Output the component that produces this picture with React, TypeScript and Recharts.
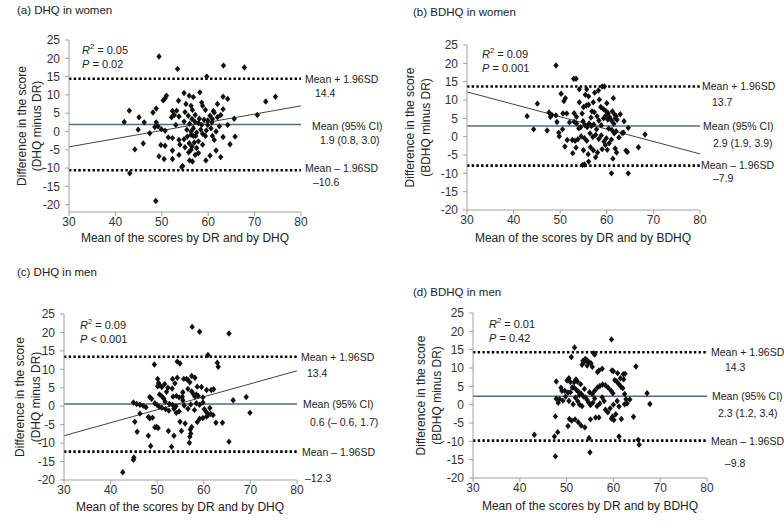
import { ComposedChart, Scatter, XAxis, YAxis, ReferenceLine } from 'recharts'

const W = 784
const H = 529
const FONT = 'Liberation Sans, Arial, sans-serif'

const xTicks = [30, 40, 50, 60, 70, 80]
const yTicks = [-20, -15, -10, -5, 0, 5, 10, 15, 20, 25]

// (a) DHQ in women: [mean of scores, difference]
const dhqWomen: [number, number][] = [
  [49.4, 20.5], [53.4, 17.1], [63.3, 18.0], [67.8, 17.5], [59.7, 15.0], [54.8, 10.5], [55.9, 9.8], [56.8, 9.4],
  [58.2, 10.7], [63.2, 9.5], [64.2, 8.9], [72.4, 8.2], [74.5, 9.5], [51.0, 9.8], [50.7, 9.1], [50.3, 8.5],
  [55.2, 7.5], [56.3, 7.0], [58.6, 7.9], [58.8, 7.0], [53.6, 8.4], [62.0, 7.5], [43.0, 5.7], [48.8, 6.3],
  [52.3, 5.6], [53.2, 5.7], [55.0, 5.3], [56.6, 5.9], [59.4, 5.9], [61.1, 5.6], [63.2, 6.1], [48.1, 5.2],
  [52.7, 4.5], [52.1, 3.9], [53.7, 4.1], [55.7, 4.3], [57.2, 4.5], [58.1, 3.5], [60.4, 4.3], [61.3, 5.2],
  [62.7, 4.5], [45.1, 3.9], [56.5, 3.4], [59.1, 3.2], [59.9, 3.0], [60.9, 3.4], [62.0, 3.9], [65.6, 3.5],
  [70.6, 4.5], [46.2, 2.5], [41.9, 2.6], [48.8, 2.5], [54.8, 2.7], [56.0, 2.1], [57.1, 2.7], [57.9, 2.3],
  [58.6, 1.8], [59.9, 1.8], [60.8, 2.5], [62.4, 1.4], [64.2, 1.8], [53.0, 1.8], [49.2, 1.4], [48.5, 1.2],
  [44.9, 0.5], [49.9, 0.6], [50.7, 0.2], [47.4, -0.5], [55.4, 0.5], [56.3, 0.0], [56.8, 0.9], [57.5, -0.3],
  [58.4, 0.5], [58.8, -0.6], [59.6, 0.3], [60.6, 0.9], [61.7, 0.0], [60.9, -1.2], [56.3, -0.9], [56.8, -1.2],
  [55.5, -1.4], [57.3, -1.2], [59.4, -1.2], [51.4, -1.6], [52.3, -1.8], [53.7, -2.3], [54.8, -2.1], [55.9, -3.2],
  [57.0, -3.0], [57.9, -2.7], [61.3, -2.3], [63.2, -1.5], [65.8, -1.4], [46.0, -3.3], [49.8, -3.7], [50.7, -3.9],
  [53.9, -3.6], [55.0, -4.3], [56.5, -4.1], [57.5, -4.5], [58.8, -3.6], [64.7, -3.5], [44.2, -4.9], [52.3, -5.2],
  [56.3, -5.0], [61.7, -5.2], [49.4, -6.8], [50.5, -7.5], [53.7, -6.4], [55.8, -5.7], [57.2, -6.4], [57.9, -5.9],
  [60.4, -6.6], [62.7, -7.0], [52.3, -7.5], [56.0, -7.9], [56.6, -8.2], [59.5, -7.9], [54.5, -9.4], [54.3, -9.7],
  [43.1, -11.4], [48.7, -19.0],
]

// (b) BDHQ in women
const bdhqWomen: [number, number][] = [
  [49.1, 19.4], [52.9, 15.8], [53.4, 15.8], [54.1, 12.9], [55.7, 12.9], [58.2, 12.6], [59.0, 13.7], [59.5, 13.7],
  [42.9, 5.6], [45.1, 9.0], [44.3, 2.0], [47.6, 6.6], [47.9, 5.4], [48.2, 5.9], [49.1, 5.8], [50.6, 6.3],
  [51.4, 6.3], [49.3, 4.0], [47.2, 1.7], [50.5, 2.0], [49.7, 1.1], [49.8, 0.1], [50.2, 11.7], [51.1, 10.5],
  [50.8, 9.7], [54.1, 9.4], [55.0, 8.1], [55.6, 8.5], [56.1, 8.7], [57.1, 9.4], [56.8, 6.9], [57.3, 6.7],
  [61.4, 10.5], [59.3, 7.5], [52.0, 3.9], [53.0, 4.1], [53.5, 3.6], [54.0, 2.3], [54.4, 2.6], [54.9, 4.2],
  [55.3, 3.2], [55.8, 2.6], [56.2, 3.6], [56.7, 2.9], [57.2, 3.3], [57.8, 2.0], [58.3, 4.4], [58.8, 3.1],
  [59.3, 5.0], [59.8, 5.8], [60.2, 4.7], [60.6, 5.3], [61.0, 4.4], [61.5, 3.5], [61.8, 5.0], [62.2, 4.6],
  [60.4, 2.2], [61.1, 1.8], [61.6, 0.9], [62.0, 1.5], [62.6, -0.2], [63.6, 1.1], [64.6, 2.4], [68.2, 0.6],
  [63.3, 1.0], [52.6, -0.9], [53.2, -1.1], [53.8, -0.7], [54.5, 0.1], [55.2, -0.4], [55.7, -1.1], [56.4, 0.9],
  [57.0, -0.1], [57.6, 0.5], [58.3, -0.6], [58.8, 0.3], [59.4, -1.3], [59.9, -0.4], [60.5, -1.8], [61.0, -0.8],
  [53.4, -3.0], [52.7, -4.5], [55.0, -3.7], [56.0, -4.8], [56.5, -2.9], [57.1, -3.7], [58.0, -4.3], [59.0, -3.4],
  [59.7, -2.3], [60.1, -3.6], [61.8, -3.2], [62.1, -4.3], [61.3, -6.0], [64.1, -3.8], [64.4, -4.2], [66.8, -2.9],
  [56.1, -6.8], [55.2, -7.6], [54.8, -7.7], [57.6, -5.6], [51.0, -2.7], [51.5, -0.9], [61.0, -10.0], [64.6, -10.0],
  [53.0, 6.4], [53.5, 5.4], [54.7, 6.3], [56.6, 5.2], [57.9, 5.6], [58.7, 8.1], [59.8, 7.0], [60.3, 6.4],
  [61.7, 6.0], [62.9, 6.1], [63.7, 4.2], [61.2, 6.9], [55.4, 11.4], [56.1, 11.0], [57.4, 12.0], [58.4, 10.1],
  [60.0, 9.1], [62.0, 5.6],
]

// (c) DHQ in men
const dhqMen: [number, number][] = [
  [57.5, 21.5], [59.1, 20.2], [65.4, 19.7], [49.4, 11.3], [54.3, 12.1], [54.9, 11.6], [60.9, 13.9], [62.9, 11.8],
  [63.1, 10.7], [50.1, 7.4], [50.3, 6.3], [50.1, 5.4], [50.6, 5.6], [51.0, 5.2], [51.6, 6.0], [53.3, 7.4],
  [53.8, 6.2], [54.3, 7.7], [55.7, 7.4], [56.3, 7.4], [56.6, 7.1], [57.0, 6.5], [56.6, 4.7], [57.4, 8.2],
  [58.1, 7.7], [58.6, 5.3], [59.5, 5.2], [60.6, 4.4], [61.6, 4.4], [62.1, 4.6], [48.4, 2.5], [48.8, 2.0],
  [50.5, 3.2], [51.0, 2.7], [51.4, 2.1], [51.7, 1.2], [44.9, 1.0], [45.6, 0.6], [46.3, 0.4], [47.0, 0.1],
  [47.6, -0.3], [53.4, 2.6], [54.1, 2.8], [54.7, 2.4], [55.4, 2.6], [55.5, 1.6], [57.4, 4.0], [57.7, 3.4],
  [58.4, 3.2], [58.1, 2.6], [58.8, 2.8], [59.8, 2.4], [58.4, 0.8], [59.1, 0.4], [59.8, 1.0], [66.3, 1.6],
  [69.1, 2.5], [69.9, -1.8], [46.3, -2.0], [45.2, -4.2], [45.7, -6.9], [48.1, -2.9], [48.4, -3.3], [49.0, -3.1],
  [49.9, -5.6], [50.2, -5.9], [49.5, -5.7], [48.1, -8.0], [48.6, -10.8], [45.0, -13.9], [44.9, -14.5], [42.6, -17.9],
  [52.4, -6.7], [53.6, -8.0], [53.1, -11.0], [55.2, -6.7], [56.9, -9.9], [57.0, -8.3], [57.2, -7.4], [57.1, -6.3],
  [57.4, -5.6], [58.6, -4.3], [59.1, -3.4], [59.8, -3.2], [60.6, -2.8], [61.0, -2.3], [61.5, -2.1], [62.6, -4.5],
  [64.0, -4.5], [65.4, -9.6], [54.1, -1.8], [54.7, -1.4], [53.6, -0.7], [54.9, -4.2], [56.0, -4.7], [52.6, 0.6],
  [53.3, 0.4], [54.0, 0.0], [51.0, -0.4], [51.8, -0.8], [52.5, -1.2], [49.5, 0.8], [50.0, 0.3], [50.4, -0.1],
  [52.0, 3.9], [55.8, 0.2], [56.6, -0.7], [57.2, 0.5], [58.0, -1.0], [60.1, -0.8], [60.5, -1.5], [61.3, -0.5],
  [62.0, -2.4], [55.5, 3.8], [53.2, 4.8], [52.3, 5.0],
]

// (d) BDHQ in men
const bdhqMen: [number, number][] = [
  [59.6, 17.8], [51.7, 15.6], [51.0, 13.0], [55.8, 14.0], [56.0, 13.7], [53.5, 12.0], [54.0, 12.5], [54.3, 12.2],
  [54.7, 11.7], [55.2, 11.3], [53.3, 10.9], [53.7, 11.6], [54.4, 10.7], [55.5, 10.3], [56.6, 8.9], [56.9, 9.3],
  [57.6, 9.8], [59.7, 9.3], [60.0, 9.1], [60.9, 8.6], [62.1, 8.3], [61.5, 7.2], [62.2, 6.9], [62.5, 8.4],
  [64.8, 10.4], [50.1, 6.6], [50.5, 7.2], [50.8, 6.2], [52.0, 6.9], [52.3, 6.3], [51.6, 6.1], [53.0, 5.6],
  [47.8, 6.3], [48.8, 4.6], [49.0, 3.8], [49.6, 3.8], [47.8, 1.6], [48.5, 1.5], [48.2, 0.5], [49.2, 1.1],
  [49.8, 2.2], [50.3, 3.3], [50.8, 3.4], [51.2, 4.7], [51.6, 4.6], [52.1, 4.0], [52.5, 3.6], [53.1, 3.0],
  [53.6, 2.2], [54.0, 2.0], [54.4, 1.3], [54.7, 0.6], [55.1, -0.1], [55.5, 2.9], [56.0, 3.8], [56.6, 4.7],
  [57.1, 5.1], [57.7, 5.5], [58.3, 5.3], [58.9, 4.6], [59.5, 3.8], [59.9, 3.1], [60.3, 6.7], [60.7, 6.3],
  [61.2, 5.6], [61.6, 4.9], [62.0, 4.5], [62.4, 2.9], [62.7, 1.5], [62.4, 0.1], [63.5, 1.4], [67.2, 3.1],
  [67.8, 0.2], [64.3, -3.3], [65.3, -9.6], [65.5, -10.9], [47.6, -3.2], [48.1, -7.5], [47.4, -8.7], [47.6, -14.1],
  [43.1, -8.2], [50.3, -5.8], [50.6, -3.9], [51.1, -4.4], [51.8, -4.0], [52.5, -4.8], [53.1, -5.7], [53.9, -6.2],
  [54.8, -9.1], [55.1, -4.0], [56.2, -3.5], [56.9, -3.5], [55.0, -13.0], [61.2, -8.7], [60.1, -4.2], [59.8, -3.3],
  [60.5, -2.6], [51.9, 1.9], [52.4, 0.9], [52.8, 0.0], [53.3, -0.4], [51.4, 0.1], [50.5, 1.0], [55.6, 0.5],
  [56.0, 1.7], [56.5, -0.4], [57.1, 0.3], [57.6, 2.0], [58.3, -1.4], [58.8, -2.1], [59.3, -1.0], [60.0, 0.0],
  [60.8, 1.0], [61.2, -0.5], [58.0, 1.0], [54.9, 3.4], [53.8, 4.3], [52.7, 2.6], [59.6, -3.8], [61.7, -3.9],
  [62.9, 0.3],
]

// upper limit, mean, lower limit
const dhqWomenLimits = [14.4, 1.9, -10.6]
const bdhqWomenLimits = [13.7, 2.9, -7.9]
const dhqMenLimits = [13.4, 0.6, -12.3]
const bdhqMenLimits = [14.3, 2.3, -9.8]

const dhqWomenText = ['14.4', '1.9 (0.8, 3.0)', '–10.6']
const bdhqWomenText = ['13.7', '2.9 (1.9, 3.9)', '–7.9']
const dhqMenText = ['13.4', '0.6 (– 0.6, 1.7)', '–12.3']
const bdhqMenText = ['14.3', '2.3 (1.2, 3.4)', '–9.8']
const limitNames = ['Mean + 1.96SD', 'Mean (95% CI)', 'Mean – 1.96SD']

// regression lines [x, y] at both ends
const dhqWomenFit: [number, number][] = [[30, -4.2], [80, 7.0]]
const bdhqWomenFit: [number, number][] = [[30, 12.2], [80, -4.7]]
const dhqMenFit: [number, number][] = [[30, -8.0], [80, 9.6]]

const rSquared = ['0.05', '0.09', '0.09', '0.01']
const pValues = ['= 0.02', '= 0.001', '< 0.001', '= 0.42']

const Diamond = (p: any) => {
  const { cx, cy } = p
  if (cx == null || cy == null) return null
  return <path d={`M${cx},${cy - 3.2}L${cx + 2.7},${cy}L${cx},${cy + 3.2}L${cx - 2.7},${cy}Z`} fill="#111" />
}

const sideLabel = (name: string, value: string, offs: number[]) => (p: any) => {
  const vb = p.viewBox || {}
  const right = vb.x + vb.width
  const y = vb.y
  return (
    <g fontFamily={FONT} fontSize={10.5} fill="#222">
      <text x={right + offs[0]} y={y + offs[1]} dominantBaseline="central">{name}</text>
      <text x={right + offs[2]} y={y + offs[3]} dominantBaseline="central">{value}</text>
    </g>
  )
}

function Panel({ box, points, limits, texts, fit, offs }: any) {
  const { left, right, top, bottom, yMin } = box
  const data = points.map(([x, y]: number[]) => ({ x, y }))
  const axisStyle = { stroke: '#a0a0a0' }
  const tickStyle = { fill: '#333', fontSize: 12, fontFamily: FONT }
  return (
    <div style={{ position: 'absolute', left: 0, top: 0 }}>
      <ComposedChart
        width={W}
        height={H}
        margin={{ top, left: left - 30, right: W - right, bottom: H - bottom - 20 }}
      >
        <XAxis
          type="number"
          dataKey="x"
          domain={[30, 80]}
          ticks={xTicks}
          interval={0}
          height={20}
          axisLine={axisStyle}
          tickLine={axisStyle}
          tickSize={4}
          tickMargin={1}
          tick={tickStyle}
        />
        <YAxis
          type="number"
          dataKey="y"
          domain={[yMin, 25]}
          ticks={yTicks}
          interval={0}
          width={30}
          axisLine={axisStyle}
          tickLine={axisStyle}
          tickSize={4}
          tickMargin={5}
          tick={tickStyle}
        />
        <ReferenceLine
          y={limits[0]}
          stroke="#000"
          strokeWidth={2.6}
          strokeDasharray="2.4 2.3"
          label={sideLabel(limitNames[0], texts[0], offs[0])}
        />
        <ReferenceLine
          y={limits[1]}
          stroke="#4d6b8c"
          strokeWidth={1.6}
          label={sideLabel(limitNames[1], texts[1], offs[1])}
        />
        <ReferenceLine
          y={limits[2]}
          stroke="#000"
          strokeWidth={2.6}
          strokeDasharray="2.4 2.3"
          label={sideLabel(limitNames[2], texts[2], offs[2])}
        />
        {fit && (
          <ReferenceLine
            segment={[{ x: fit[0][0], y: fit[0][1] }, { x: fit[1][0], y: fit[1][1] }]}
            stroke="#444"
            strokeWidth={1}
          />
        )}
        <Scatter data={data} shape={Diamond} isAnimationActive={false} />
      </ComposedChart>
    </div>
  )
}

const boxes = [
  { left: 69, right: 301, top: 40, bottom: 212, yMin: -22 },
  { left: 467, right: 700, top: 45, bottom: 210, yMin: -20 },
  { left: 64, right: 297, top: 314, bottom: 480, yMin: -20 },
  { left: 473, right: 707, top: 313, bottom: 478, yMin: -20 },
]

// side label offsets from the plot's right edge and the line: [dx name, dy name, dx value, dy value]
const sideOffsets = [
  [[4, 0, 14, 14], [11, 1, 19, 15], [4, -2, 12, 12]],
  [[2, 0, 12, 16], [3, 0, 13, 17], [1, -1, 13, 12]],
  [[4, 0, 10, 16], [6, 0, 13, 18], [5, 0, 8, 26]],
  [[4, 0, 18, 15], [5, 0, 11, 17], [4, 0, 18, 22]],
]

const titles = ['(a) DHQ in women', '(b) BDHQ in women', '(c) DHQ in men', '(d) BDHQ in men']
const titlePos = [[17, 10], [413, 12], [17, 272], [413, 292]]
const yTitle2 = ['(DHQ minus DR)', '(BDHQ minus DR)', '(DHQ minus DR)', '(BDHQ minus DR)']
const yTitlePos = [[22, 37], [410, 426], [20, 36], [421, 437]]
const xTitles = ['Mean of the scores by DR and by DHQ', 'Mean of the scores by DR and by BDHQ', 'Mean of the scores by DR and by DHQ', 'Mean of the scores by DR and by BDHQ']
const xTitlePos = [[185, 238], [583, 238], [180, 507], [590, 506]]
const statPos = [[82, 50], [482, 54], [80, 325], [489, 324]]

function Overlay() {
  return (
    <svg width={W} height={H} style={{ position: 'absolute', left: 0, top: 0 }} fontFamily={FONT} fill="#222">
      {titles.map((t, i) => (
        <text key={t} x={titlePos[i][0]} y={titlePos[i][1]} fontSize={11.5} dominantBaseline="central">{t}</text>
      ))}
      {boxes.map((b, i) => {
        const cy = (b.top + b.bottom) / 2
        return (
          <g key={i} fontSize={12} textAnchor="middle">
            <text transform={`translate(${yTitlePos[i][0]},${cy}) rotate(-90)`} dominantBaseline="central">Difference in the score</text>
            <text transform={`translate(${yTitlePos[i][1]},${cy}) rotate(-90)`} dominantBaseline="central">{yTitle2[i]}</text>
            <text x={xTitlePos[i][0]} y={xTitlePos[i][1]} dominantBaseline="central">{xTitles[i]}</text>
          </g>
        )
      })}
      {statPos.map((s, i) => (
        <g key={i} fontSize={11}>
          <text x={s[0]} y={s[1]} dominantBaseline="central">
            <tspan fontStyle="italic">R</tspan>
            <tspan fontSize={7.5} dy={-4}>2</tspan>
            <tspan dy={4}>{` = ${rSquared[i]}`}</tspan>
          </text>
          <text x={s[0]} y={s[1] + 14} dominantBaseline="central">
            <tspan fontStyle="italic">P</tspan>
            <tspan>{` ${pValues[i]}`}</tspan>
          </text>
        </g>
      ))}
    </svg>
  )
}

export default function App() {
  return (
    <div style={{ position: 'absolute', left: 0, top: 0, width: W, height: H, background: '#fff' }}>
      <Panel box={boxes[0]} points={dhqWomen} limits={dhqWomenLimits} texts={dhqWomenText} fit={dhqWomenFit} offs={sideOffsets[0]} />
      <Panel box={boxes[1]} points={bdhqWomen} limits={bdhqWomenLimits} texts={bdhqWomenText} fit={bdhqWomenFit} offs={sideOffsets[1]} />
      <Panel box={boxes[2]} points={dhqMen} limits={dhqMenLimits} texts={dhqMenText} fit={dhqMenFit} offs={sideOffsets[2]} />
      <Panel box={boxes[3]} points={bdhqMen} limits={bdhqMenLimits} texts={bdhqMenText} offs={sideOffsets[3]} />
      <Overlay />
    </div>
  )
}
